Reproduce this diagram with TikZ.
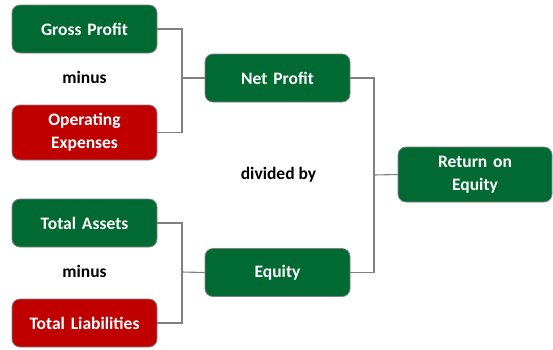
\documentclass[tikz,border=0pt]{standalone}
\usepackage{fontspec}
\setmainfont{Carlito}
\definecolor{boxgreen}{RGB}{0,106,50}
\definecolor{boxred}{RGB}{192,0,0}
\definecolor{linegrey}{RGB}{128,128,128}
\begin{document}
\begin{tikzpicture}[x=1pt,y=-1pt,
  box/.style={draw=linegrey, line width=0.8pt, rounded corners=8pt, minimum width=145pt, minimum height=48pt, text width=140pt, align=center, text=white, font=\fontsize{17.5}{23}\selectfont\bfseries, inner sep=0pt},
  greenbox/.style={box, fill=boxgreen},
  redbox/.style={box, fill=boxred},
  lbl/.style={font=\fontsize{17.5}{22}\selectfont\bfseries, text=black},
  conn/.style={draw=linegrey, line width=1.1pt}]
\useasboundingbox (0,0) rectangle (553,349);
\node[greenbox] (gp) at (84.5,29) {Gross Profit};
\node[redbox, minimum height=55pt] (oe) at (84.5,132.5) {Operating\\Expenses};
\node[lbl] (m1) at (84.5,77) {minus};
\node[greenbox] (np) at (277.5,78) {Net Profit};
\node[greenbox] (ta) at (84.5,223) {Total Assets};
\node[redbox] (tl) at (84.5,323) {Total Liabilities};
\node[lbl] (m2) at (84.5,271) {minus};
\node[greenbox] (eq) at (277.5,272.5) {Equity};
\node[greenbox, minimum width=154pt, minimum height=55pt] (roe) at (475,174.5) {Return on\\Equity};
\node[lbl] (dv) at (278.5,175) {divided by};
\coordinate (j1) at (182,78);
\coordinate (j2) at (182,272);
\coordinate (j3) at (374,175);
\draw[conn] (gp.east) -| (j1) |- (oe.east);
\draw[conn] (j1) -- (np.west);
\draw[conn] (ta.east) -| (j2) |- (tl.east);
\draw[conn] (j2) -- (eq.west);
\draw[conn] (np.east) -| (j3) |- (eq.east);
\draw[conn] (j3) -- (roe.west);
\end{tikzpicture}
\end{document}
